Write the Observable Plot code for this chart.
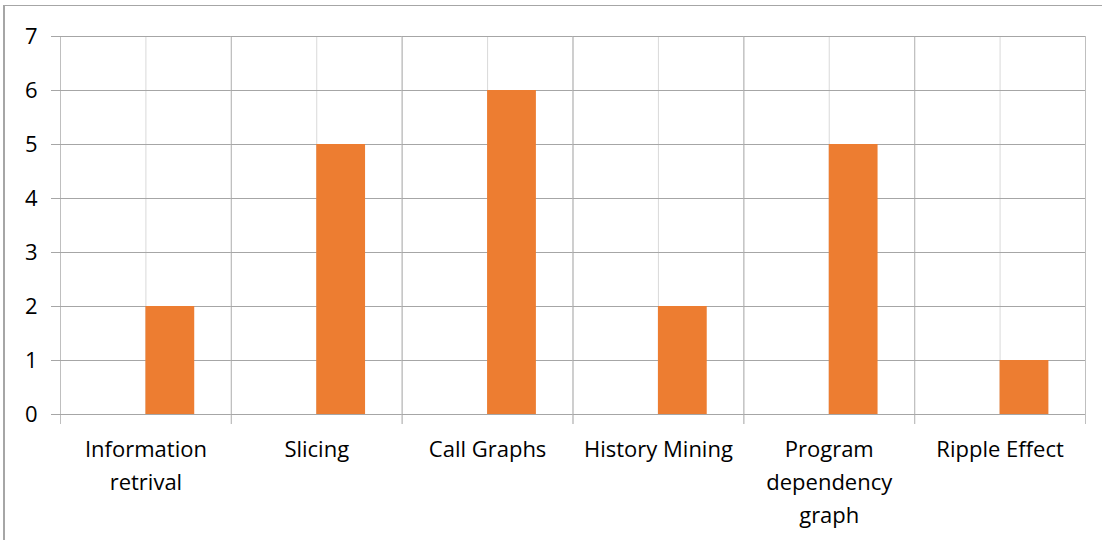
<!DOCTYPE html>
<html>
<head>
<meta charset="utf-8">
<script src="https://cdn.jsdelivr.net/npm/d3@7"></script>
<script src="https://cdn.jsdelivr.net/npm/@observablehq/plot@0.6"></script>
<style>
  html, body { margin: 0; padding: 0; background: #fff; }
  #chart { position: relative; width: 1102px; height: 540px; overflow: hidden; }
  #chart svg { position: absolute; left: 0; top: 0; }
  /* chart-area border (left and top edges) */
  #border { position: absolute; left: 3px; top: 5px; width: 1110px; height: 560px;
            border-left: 2px solid #a6a6a6; border-top: 1.5px solid #a6a6a6; pointer-events: none; }
</style>
</head>
<body>
<div id="chart"><div id="border"></div></div>
<script>
// Techniques and how many studies use each
const categories = ["Information retrival", "Slicing", "Call Graphs", "History Mining", "Program dependency graph", "Ripple Effect"];
const tickLabels = ["Information\nretrival", "Slicing", "Call Graphs", "History Mining", "Program\ndependency\ngraph", "Ripple Effect"];
const seriesNames = ["Series1", "Series2"];
const counts = [2, 5, 6, 2, 5, 1];
const yTicks = [0, 1, 2, 3, 4, 5, 6, 7];

const rows = categories.map((c, i) => ({category: c, series: "Series2", value: counts[i]}));
const labelOf = new Map(categories.map((c, i) => [c, tickLabels[i]]));

const font = "'Open Sans', 'Noto Sans', sans-serif";

const chart = Plot.plot({
  width: 1102,
  height: 540,
  marginLeft: 60,
  marginRight: 17,
  marginTop: 36,
  marginBottom: 126,
  style: {fontFamily: font, fontSize: "22px", color: "#000", background: "transparent"},
  fx: {domain: categories, padding: 0, round: false, axis: null},
  x: {domain: seriesNames, paddingInner: 0, paddingOuter: 0.75, round: false, axis: null},
  y: {domain: [0, 7], axis: null},
  marks: [
    // category centre lines
    Plot.gridFx({stroke: "#d9d9d9", strokeOpacity: 1}),
    // category boundaries, extended below the baseline as tick marks
    Plot.frame({anchor: "left", stroke: "#bfbfbf", insetBottom: -9}),
    Plot.frame({anchor: "right", stroke: "#bfbfbf", insetBottom: -9}),
    // horizontal gridlines
    Plot.ruleY(yTicks, {stroke: "#a6a6a6", strokeWidth: 1.2}),
    Plot.barY(rows, {fx: "category", x: "series", y: "value", fill: "#ED7D31"}),
    Plot.axisY({ticks: yTicks, tickSize: 9, tickPadding: 14, stroke: "#a6a6a6", fill: "#000", fontSize: 22, label: null, tickFormat: d3.format("d")}),
    Plot.axisFx({anchor: "bottom", tickSize: 0, tickPadding: 19, fontSize: 22, lineHeight: 1.5, label: null,
                 tickFormat: d => labelOf.get(d), fill: "#000"})
  ]
});
document.getElementById("chart").prepend(chart);
</script>
</body>
</html>
